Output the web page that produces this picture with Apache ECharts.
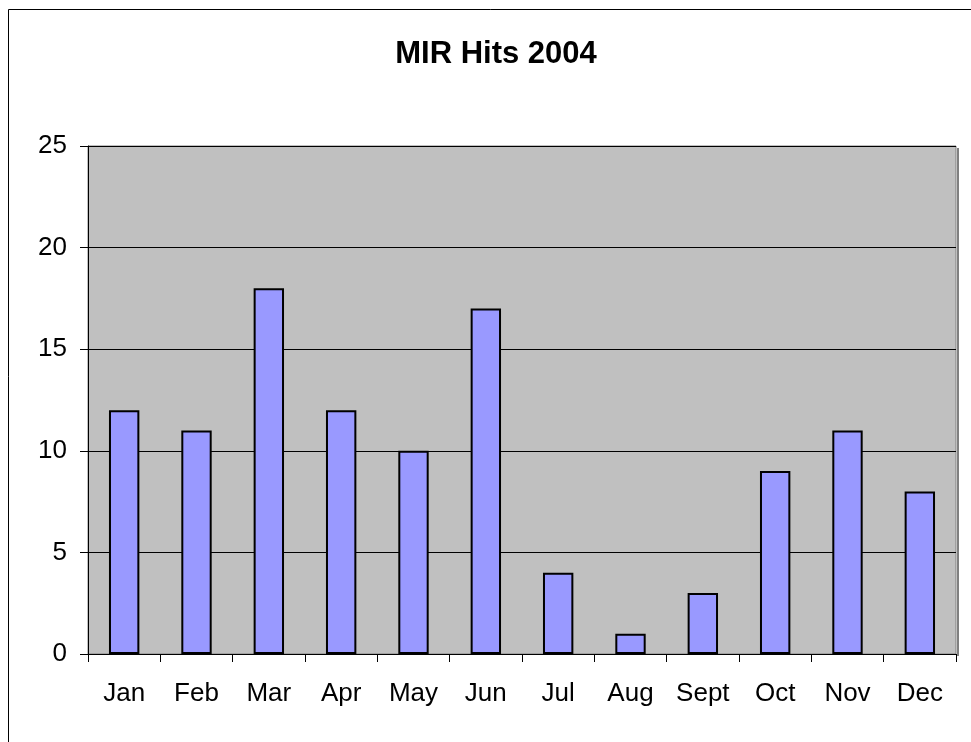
<!DOCTYPE html>
<html>
<head>
<meta charset="utf-8">
<script src="https://cdn.jsdelivr.net/npm/echarts@6/dist/echarts.min.js"></script>
<style>html,body{margin:0;padding:0;background:#fff}#c{width:971px;height:742px}</style>
</head>
<body>
<div id="c"></div>
<script>
const categories = ['Jan','Feb','Mar','Apr','May','Jun','Jul','Aug','Sept','Oct','Nov','Dec'];
const hits = [12, 11, 18, 12, 10, 17, 4, 1, 3, 9, 11, 8];
const yTicks = [0, 5, 10, 15, 20, 25];

const chart = echarts.init(document.getElementById('c'), null, {renderer: 'canvas'});
chart.setOption({
  animation: false,
  backgroundColor: '#ffffff',
  graphic: [
    {type: 'rect', shape: {x: 8.5, y: 9.5, width: 1000, height: 1000}, style: {fill: 'none', stroke: '#000', lineWidth: 1}, z: -10},
    {type: 'rect', shape: {x: 957, y: 148, width: 2, height: 508}, style: {fill: '#808080'}, z: -5}
  ],
  title: {
    text: 'MIR Hits 2004',
    left: 491, top: 34, textAlign: 'center',
    textStyle: {fontFamily: 'Liberation Sans, Arial, sans-serif', fontSize: 31, fontWeight: 'bold', color: '#000'}
  },
  grid: {
    left: 88, top: 146, right: 15, bottom: 88,
    show: true, backgroundColor: '#C0C0C0', borderColor: '#808080', borderWidth: 1
  },
  xAxis: {
    type: 'category', data: categories, boundaryGap: true,
    axisLine: {show: true, lineStyle: {color: '#000', width: 1}},
    axisTick: {show: true, length: 8, alignWithLabel: false, lineStyle: {color: '#000'}},
    axisLabel: {margin: 27, fontSize: 26, color: '#000', fontFamily: 'Liberation Sans, Arial, sans-serif', interval: 0},
    splitLine: {show: false}
  },
  yAxis: {
    type: 'value', min: yTicks[0], max: yTicks[yTicks.length-1], interval: 5,
    axisLine: {show: true, lineStyle: {color: '#000', width: 1}},
    axisTick: {show: true, length: 8, lineStyle: {color: '#000'}},
    axisLabel: {margin: 21, fontSize: 26, color: '#000', fontFamily: 'Liberation Sans, Arial, sans-serif'},
    splitLine: {show: true, lineStyle: {color: '#000', width: 1}}
  },
  series: [{
    type: 'bar', data: hits, barWidth: '42%',
    itemStyle: {color: '#9999FF', borderColor: '#000', borderWidth: 2}
  }]
});
</script>
</body>
</html>
